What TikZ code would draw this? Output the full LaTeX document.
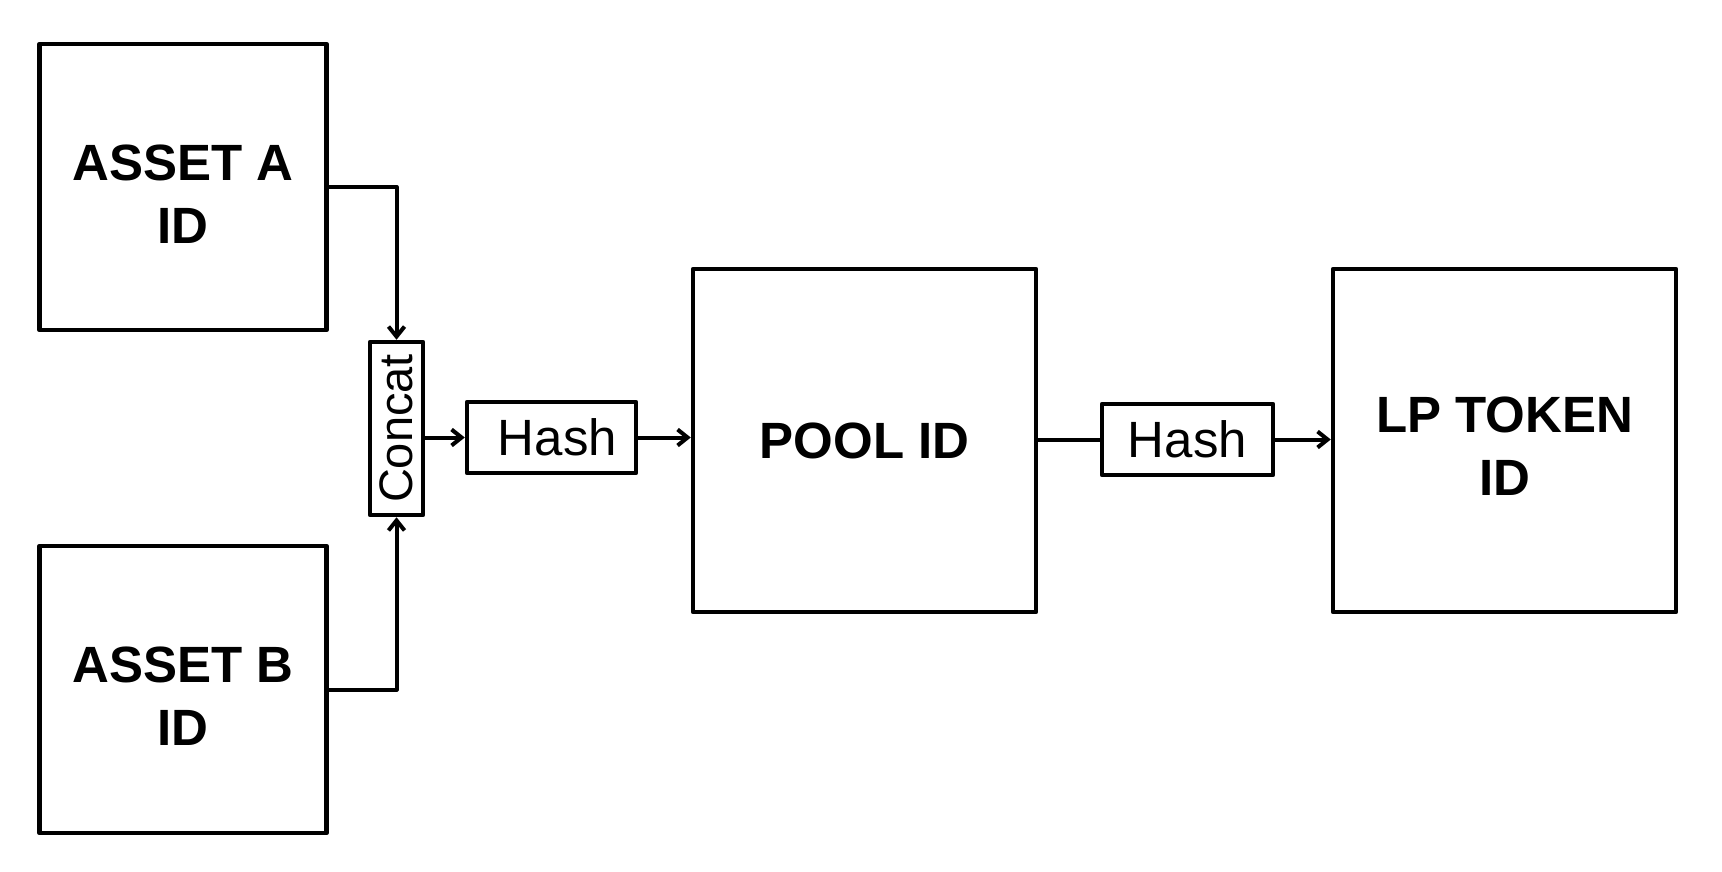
\documentclass[tikz,border=0pt]{standalone}
\usepackage{fontspec}
\setmainfont{Liberation Sans}
\usetikzlibrary{arrows.meta}
\begin{document}
\begin{tikzpicture}[x=1pt,y=-1pt,
  every path/.style={line join=round},
  bigbox/.style={draw,line width=4.5pt,inner sep=0pt},
  bigtext/.style={inner sep=0pt,align=center,
    font=\fontsize{51}{63}\selectfont\bfseries},
  smallbox/.style={draw,line width=4.5pt,inner sep=0pt,
    font=\fontsize{51}{60}\selectfont},
  conn/.style={line width=4pt,-{Straight Barb[length=10pt,width=16pt,line width=4pt]}},
  plain/.style={line width=4pt}]
\useasboundingbox (0,0) rectangle (1722,872);
\node[bigbox,minimum width=287pt,minimum height=286pt] (A) at (183,187) {};
\node[bigtext,yshift=-7pt] (At) at (A.center) {ASSET A\\ID};
\node[bigbox,minimum width=287pt,minimum height=287pt] (B) at (183,689.5) {};
\node[bigtext,yshift=-7pt] (Bt) at (B.center) {ASSET B\\ID};
\node[smallbox,minimum width=173pt,minimum height=53pt,rotate=90,
  font=\fontsize{47}{56}\selectfont] (C) at (396.5,428.5) {Concat};
\node[smallbox,minimum width=169pt,minimum height=71pt] (H1) at (551.5,437.5) {\hspace{12pt}Hash};
\node[bigbox,minimum width=343pt,minimum height=343pt] (P) at (864.5,440.5) {};
\node[bigtext] (Pt) at (P.center) {POOL ID};
\node[smallbox,minimum width=171pt,minimum height=71pt] (H2) at (1187.5,439.5) {Hash};
\node[bigbox,minimum width=343pt,minimum height=343pt] (L) at (1504.5,440.5) {};
\node[bigtext,yshift=-6pt] (Lt) at (L.center) {LP TOKEN\\ID};
\draw[conn] (A.east) -| (C.east);
\draw[conn] (B.east) -| (C.west);
\draw[conn] (H1.west -| C.south) -- (H1.west);
\draw[conn] (H1.east) -- (H1.east -| P.west);
\draw[plain] (H2.west -| P.east) -- (H2.west);
\draw[conn] (H2.east) -- (H2.east -| L.west);
\end{tikzpicture}
\end{document}
